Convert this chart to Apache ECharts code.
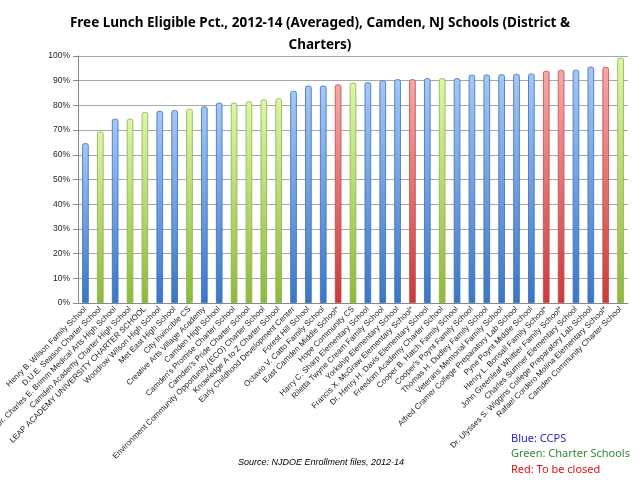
<!DOCTYPE html>
<html><head><meta charset="utf-8">
<script src="https://cdn.jsdelivr.net/npm/echarts@6/dist/echarts.min.js"></script>
<style>html,body{margin:0;padding:0;background:#fff}#c{width:640px;height:480px}</style>
</head><body><div id="c"></div>
<script>
var categories = [
"Henry B. Wilson Family School","D.U.E. Season Charter School","Dr. Charles E. Brimm Medical Arts High School","Camden Academy Charter High School","LEAP ACADEMY UNIVERSITY CHARTER SCHOOL","Woodrow Wilson High School","Met East High School","City Invincible CS","Creative Arts Village Academy","Camden High School","Camden's Promise Charter School","Camden's Pride Charter School","Environment Community Opportunity (ECO) Charter School","Knowledge A to Z Charter School","Early Childhood Development Center","Forest Hill School","Octavio V. Catto Family School","East Camden Middle School*","Hope Community CS","Harry C. Sharp Elementary School","Riletta Twyne Cream Family School","Yorkship Elementary School","Francis X. McGraw Elementary School*","Dr. Henry H. Davis Elementary School","Freedom Academy Charter School","Cooper B. Hatch Family School","Cooper's Poynt Family School","Thomas H. Dudley Family School","Veterans Memorial Family School","Alfred Cramer College Preparatory Lab School","Pyne Poynt Middle School","Henry L. Bonsall Family School*","John Greenleaf Whittier Family School*","Charles Sumner Elementary School","Dr. Ulysses S. Wiggins College Preparatory Lab School","Rafael Cordero Molina Elementary School*","Camden Community Charter School"];
var values = [64.7,69.4,74.6,74.6,77.3,77.8,78.1,78.6,79.6,81.1,81.1,81.6,82.4,82.9,85.9,88.0,88.0,88.5,89.2,89.4,90.1,90.6,90.6,91.0,91.0,91.0,92.4,92.5,92.6,92.8,92.9,94.0,94.4,94.4,95.7,95.6,99.3];
var groups = ["B","G","B","G","G","B","B","G","B","B","G","G","G","G","B","B","B","R","G","B","B","B","R","B","G","B","B","B","B","B","B","R","R","B","B","R","G"];
var yTicks = [0,10,20,30,40,50,60,70,80,90,100];

var palette = {
  B:{top:"#a4c8f8",bot:"#3b76c6",border:"#3a6fb8"},
  G:{top:"#dcf7a6",bot:"#8dba3c",border:"#8db048"},
  R:{top:"#f7a8a8",bot:"#c93b3b",border:"#c04848"}
};
var data = values.map(function(v,i){
  var p = palette[groups[i]];
  return {value:v,itemStyle:{
    color:new echarts.graphic.LinearGradient(0,0,0,1,[{offset:0,color:p.top},{offset:1,color:p.bot}]),
    borderColor:p.border,borderWidth:0.8,borderRadius:[2,2,0,0]}};
});
var chart = echarts.init(document.getElementById('c'));
chart.setOption({
  animation:false,
  title:{text:"Free Lunch Eligible Pct., 2012-14 (Averaged), Camden, NJ Schools (District &\nCharters)",
    left:"center",top:7,textStyle:{fontFamily:"Noto Sans",fontWeight:"bold",fontSize:13.5,lineHeight:22,color:"#000"}},
  grid:{left:78,right:12,top:56,bottom:177,outerBoundsMode:"none",containLabel:false},
  xAxis:{type:"category",data:categories,
    axisLine:{lineStyle:{color:"#888"}},
    axisTick:{alignWithLabel:false,lineStyle:{color:"#888"}},
    axisLabel:{rotate:45,interval:0,fontSize:8,color:"#222",fontFamily:"Liberation Sans",margin:5}},
  yAxis:{type:"value",min:0,max:100,interval:10,
    axisLine:{show:true,lineStyle:{color:"#888"}},
    axisTick:{show:true,lineStyle:{color:"#888"}},
    axisLabel:{fontSize:8.5,color:"#222",fontFamily:"Liberation Sans",margin:8,
      formatter:function(v){return yTicks.indexOf(v)>=0? v+"%":"";}},
    splitLine:{lineStyle:{color:"#a8a8a8"}}},
  series:[{type:"bar",data:data,barWidth:"44%"}],
  graphic:[
    {type:"text",left:238,top:458,style:{text:"Source: NJDOE Enrollment files, 2012-14",fontStyle:"italic",fontSize:9,fill:"#000",fontFamily:"Liberation Sans"}},
    {type:"text",left:511,top:433,style:{text:"Blue: CCPS",fontSize:11,fill:"#2424c8",fontFamily:"Noto Sans"}},
    {type:"text",left:511,top:448,style:{text:"Green: Charter Schools",fontSize:11,fill:"#2e8a2e",fontFamily:"Noto Sans"}},
    {type:"text",left:511,top:464,style:{text:"Red: To be closed",fontSize:11,fill:"#e01010",fontFamily:"Noto Sans"}}
  ]
});
</script></body></html>
